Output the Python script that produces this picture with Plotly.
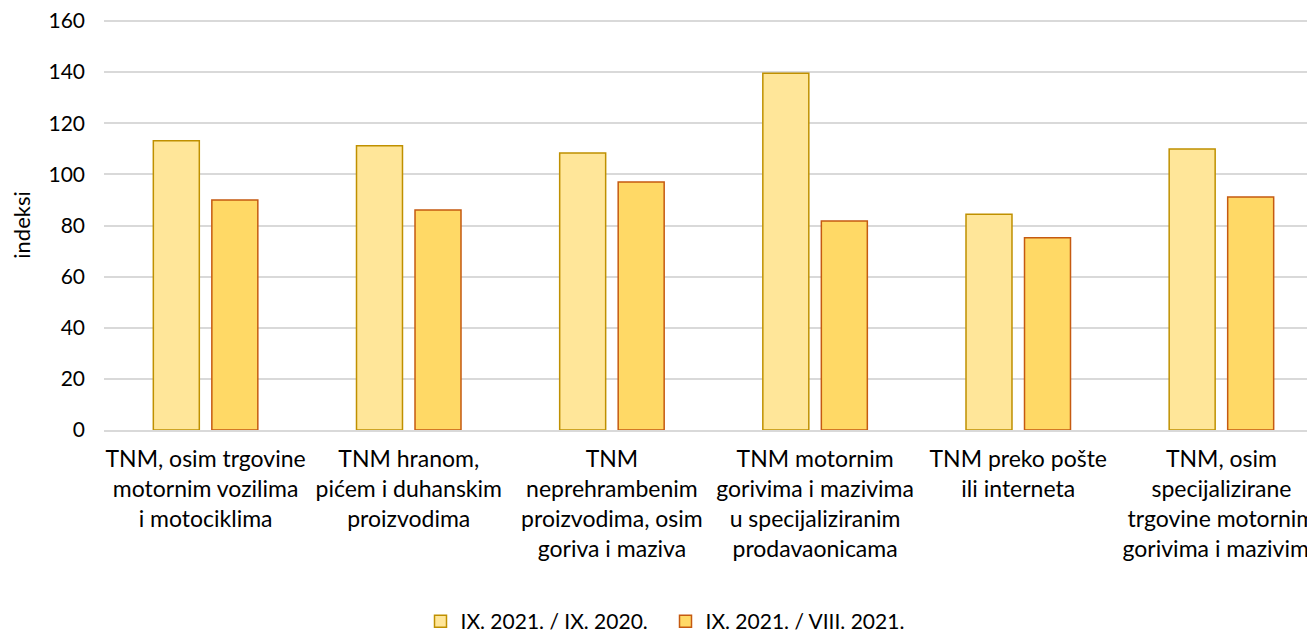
import plotly.graph_objects as go

categories = [
    "TNM, osim trgovine<br>motornim vozilima<br>i motociklima",
    "TNM hranom,<br>pićem i duhanskim<br>proizvodima",
    "TNM<br>neprehrambenim<br>proizvodima, osim<br>goriva i maziva",
    "TNM motornim<br>gorivima i mazivima<br>u specijaliziranim<br>prodavaonicama",
    "TNM preko pošte<br>ili interneta",
    "TNM, osim<br>specijalizirane<br>trgovine motornim<br>gorivima i mazivima",
]
series_names = ["IX. 2021. / IX. 2020.", "IX. 2021. / VIII. 2021."]
values_yoy = [113.2, 111.2, 108.4, 139.6, 84.4, 109.9]
values_mom = [90.0, 86.1, 97.0, 81.8, 75.2, 91.2]
y_ticks = [0, 20, 40, 60, 80, 100, 120, 140, 160]

FONT = "Lato"
TXT = "#000000"

fig = go.Figure()
fig.add_trace(go.Bar(
    x=categories, y=values_yoy, name=series_names[0],
    marker=dict(color="#FFE699", line=dict(color="#BF9000", width=1.5)),
))
fig.add_trace(go.Bar(
    x=categories, y=values_mom, name=series_names[1],
    marker=dict(color="#FFD966", line=dict(color="#C55A11", width=1.5)),
))

# page body has an 8px default margin; figure is offset by it
fig.update_layout(
    width=1315, height=626,
    margin=dict(l=96, r=0, t=12, b=204, autoexpand=False),
    paper_bgcolor="white", plot_bgcolor="white",
    font=dict(family=FONT, size=22, color=TXT),
    barmode="group", bargap=0.424, bargroupgap=0.214,
    showlegend=True,
    legend=dict(orientation="h", x=0.5, xanchor="center", xref="container",
                y=0.02, yanchor="middle", yref="container",
                font=dict(family=FONT, size=21, color=TXT), itemwidth=30,
                entrywidth=200, traceorder="normal", tracegroupgap=0),
)
fig.update_xaxes(
    type="category", showgrid=False, showline=True, linecolor="#D9D9D9", linewidth=1.5,
    ticks="", tickfont=dict(family=FONT, size=23, color=TXT),
    ticklabelstandoff=8, ticklabeloverflow="allow",
)
fig.update_yaxes(
    range=[0, 160.4], tickvals=y_ticks, showgrid=True, gridcolor="#D9D9D9", gridwidth=1.5,
    zeroline=False, ticks="", tickfont=dict(family=FONT, size=21, color=TXT),
    ticklabelstandoff=18, ticklabeloverflow="allow",
    title=dict(text="indeksi", font=dict(family=FONT, size=22, color=TXT), standoff=14),
)

fig.write_html("out.html")
